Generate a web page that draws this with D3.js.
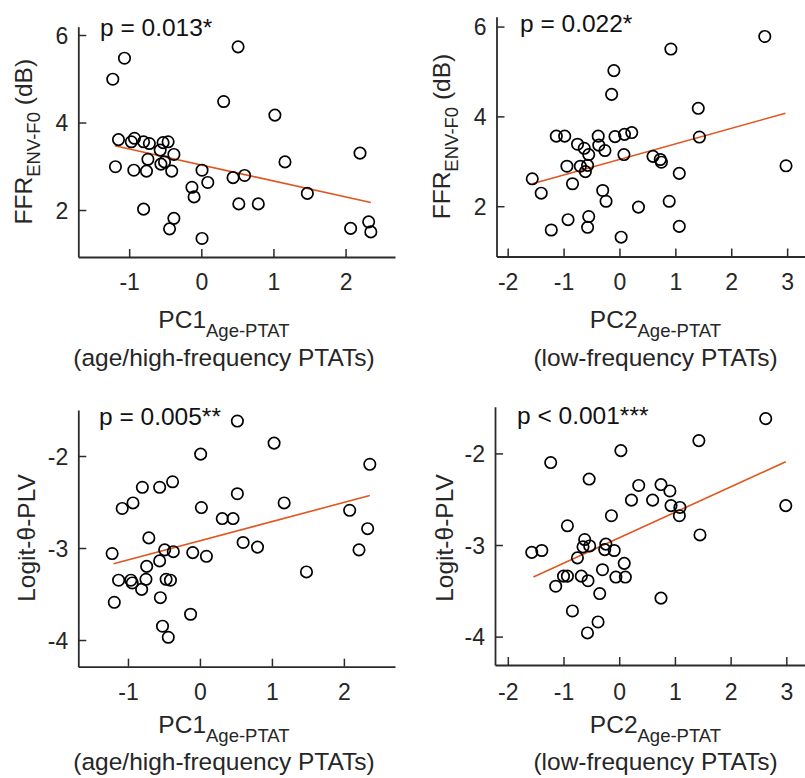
<!DOCTYPE html>
<html>
<head>
<meta charset="utf-8">
<script src="https://cdn.jsdelivr.net/npm/d3@7"></script>
<style>
  html, body { margin: 0; padding: 0; background: #fff; }
  svg { display: block; }
  text { font-family: "Liberation Sans", Arial, Helvetica, sans-serif; }
</style>
</head>
<body>
<svg id="chart" width="805" height="778"></svg>
<script>
// ---------------- DATA ----------------
// Panel 1: PC1 vs FFR
const p1X = [0.51,-1.065,-1.227,0.31,1.02,-1.148,-0.97,-0.926,-0.80,-0.72,-0.53,-0.46,-0.57,-0.38,-0.74,-0.51,-0.56,-1.19,-0.935,-0.76,-0.41,0.01,0.09,0.44,0.60,1.16,2.20,-0.13,-0.10,1.47,0.52,0.79,-0.80,-0.38,-0.44,0.01,2.07,2.32,2.35];
const p1Y = [5.73,5.47,4.99,4.48,4.17,3.61,3.56,3.64,3.56,3.52,3.54,3.56,3.37,3.27,3.16,3.10,3.05,2.99,2.91,2.89,2.89,2.91,2.63,2.74,2.79,3.10,3.30,2.52,2.30,2.38,2.14,2.14,2.02,1.81,1.57,1.35,1.58,1.73,1.50];
// Panel 2: PC2 vs FFR
const p2X = [2.60,0.92,-0.10,-0.14,1.41,-1.13,-0.98,-0.75,-0.63,-0.38,-0.37,-0.26,-0.08,0.09,0.22,1.43,-0.55,0.08,0.60,0.73,0.75,-0.94,-0.70,-0.57,-0.61,-1.56,-0.84,1.07,2.98,-1.40,-0.30,-0.24,0.34,0.89,-0.92,-0.55,-0.57,-1.22,1.07,0.03];
const p2Y = [5.78,5.50,5.02,4.49,4.18,3.56,3.56,3.38,3.29,3.56,3.36,3.24,3.55,3.60,3.64,3.54,3.15,3.15,3.11,3.04,2.98,2.89,2.89,2.91,2.77,2.61,2.50,2.73,2.90,2.29,2.35,2.11,1.98,2.11,1.70,1.77,1.53,1.47,1.55,1.31];
// Panel 3: PC1 vs Logit-theta-PLV
const p3X = [0.52,1.03,0.01,2.36,-0.38,-0.80,-0.56,0.52,-1.08,-0.93,0.02,1.17,0.31,0.46,2.08,2.33,-0.71,0.60,0.80,-0.49,-0.37,-0.10,0.09,-1.22,2.21,-0.56,-0.74,-1.13,-0.96,-0.94,-0.75,-0.81,-0.47,-0.41,1.48,-1.19,-0.55,-0.13,-0.52,-0.44];
const p3Y = [-1.62,-1.86,-1.98,-2.09,-2.28,-2.34,-2.34,-2.41,-2.57,-2.51,-2.56,-2.51,-2.68,-2.68,-2.59,-2.79,-2.89,-2.94,-2.99,-3.02,-3.04,-3.05,-3.09,-3.06,-3.02,-3.14,-3.20,-3.35,-3.35,-3.38,-3.34,-3.45,-3.34,-3.35,-3.26,-3.59,-3.54,-3.72,-3.85,-3.97];
// Panel 4: PC2 vs Logit-theta-PLV
const p4X = [2.63,1.43,0.03,-1.23,-0.54,0.35,0.75,0.91,0.22,0.60,0.93,1.09,1.08,2.99,-0.14,-0.93,1.45,-0.62,-0.65,-0.53,-0.24,-0.26,-0.09,-1.57,-1.39,-0.75,0.09,-0.30,-1.00,-0.93,-0.68,-0.06,0.11,-1.14,-0.56,-0.35,0.75,-0.84,-0.38,-0.57];
const p4Y = [-1.62,-1.86,-1.97,-2.10,-2.28,-2.35,-2.34,-2.41,-2.51,-2.51,-2.57,-2.59,-2.68,-2.57,-2.68,-2.79,-2.89,-2.94,-3.02,-3.01,-2.99,-3.05,-3.06,-3.08,-3.06,-3.14,-3.20,-3.27,-3.34,-3.34,-3.34,-3.35,-3.35,-3.45,-3.39,-3.53,-3.58,-3.72,-3.84,-3.96];

// Regression line end points
const fit1X = [-1.20, 2.35], fit1Y = [3.47, 2.17];
const fit2X = [-1.56, 2.97], fit2Y = [2.50, 4.07];
const fit3X = [-1.20, 2.36], fit3Y = [-3.17, -2.43];
const fit4X = [-1.54, 2.99], fit4Y = [-3.35, -2.09];

// Tick values
const xTicksPC1 = [-1, 0, 1, 2];
const xTicksPC2 = [-2, -1, 0, 1, 2, 3];
const yTicksFFR = [2, 4, 6];
const yTicksPLV = [-4, -3, -2];

// Texts
const pTexts = ["p = 0.013*", "p = 0.022*", "p = 0.005**", "p < 0.001***"];
const xLabelMain = ["PC1", "PC2", "PC1", "PC2"];
const xLabelSub = "Age-PTAT";
const xLabelLine2 = ["(age/high-frequency PTATs)", "(low-frequency PTATs)", "(age/high-frequency PTATs)", "(low-frequency PTATs)"];

// ---------------- LAYOUT ----------------
const panels = [
  { x: p1X, y: p1Y, fx: fit1X, fy: fit1Y, xt: xTicksPC1, yt: yTicksFFR,
    xd: [-1.705, 2.685], xr: [78.3, 395], yd: [0.926, 6.19], yr: [257, 26.7],
    p: pTexts[0], pPos: [100, 36], ylab: "ffr", ylabPos: [32, 141.7],
    xl1: xLabelMain[0], xl2: xLabelLine2[0], xlCenter: 224, xlBase: [328, 366], tickBase: 290 },
  { x: p2X, y: p2Y, fx: fit2X, fy: fit2Y, xt: xTicksPC2, yt: yTicksFFR,
    xd: [-2.2, 3.4], xr: [496.5, 809.5], yd: [0.88, 6.22], yr: [256.5, 16.7],
    p: pTexts[1], pPos: [520, 32], ylab: "ffr", ylabPos: [450, 136.5],
    xl1: xLabelMain[1], xl2: xLabelLine2[1], xlCenter: 655.5, xlBase: [328, 366], tickBase: 290 },
  { x: p3X, y: p3Y, fx: fit3X, fy: fit3Y, xt: xTicksPC1, yt: yTicksPLV,
    xd: [-1.69, 2.71], xr: [78.3, 395], yd: [-4.29, -1.5], yr: [666.7, 410],
    p: pTexts[2], pPos: [99, 425], ylab: "plv", ylabPos: [35, 538],
    xl1: xLabelMain[2], xl2: xLabelLine2[2], xlCenter: 224, xlBase: [733, 770], tickBase: 700 },
  { x: p4X, y: p4Y, fx: fit4X, fy: fit4Y, xt: xTicksPC2, yt: yTicksPLV,
    xd: [-2.23, 3.4], xr: [495, 808.6], yd: [-4.31, -1.49], yr: [665, 406.7],
    p: pTexts[3], pPos: [517, 424], ylab: "plv", ylabPos: [453, 538],
    xl1: xLabelMain[3], xl2: xLabelLine2[3], xlCenter: 655.5, xlBase: [733, 770], tickBase: 700 }
];

const axisColor = "#2b2b2b";
const textColor = "#262626";
const fitColor = "#E0561F";
const tickLen = 8;

const svg = d3.select("#chart");

panels.forEach(pn => {
  const xs = d3.scaleLinear().domain(pn.xd).range(pn.xr);
  const ys = d3.scaleLinear().domain(pn.yd).range(pn.yr);
  const g = svg.append("g");

  // regression line
  const lineGen = d3.line().x(d => xs(d[0])).y(d => ys(d[1]));
  g.append("path")
    .datum(d3.zip(pn.fx, pn.fy))
    .attr("d", lineGen)
    .attr("fill", "none")
    .attr("stroke", fitColor)
    .attr("stroke-width", 1.6);

  // points
  g.selectAll("circle.pt")
    .data(d3.zip(pn.x, pn.y))
    .join("circle")
    .attr("class", "pt")
    .attr("cx", d => xs(d[0]))
    .attr("cy", d => ys(d[1]))
    .attr("r", 5.7)
    .attr("fill", "none")
    .attr("stroke", "#000")
    .attr("stroke-width", 1.7);

  // x axis (ticks inward)
  const xAxis = d3.axisBottom(xs).tickValues(pn.xt).tickSize(-tickLen).tickSizeOuter(0)
    .tickFormat(d3.format("d"));
  const xg = g.append("g").attr("transform", `translate(0,${pn.yr[0]})`).call(xAxis);
  xg.select(".domain").attr("stroke", axisColor).attr("stroke-width", 1.8);
  xg.selectAll(".tick line").attr("stroke", axisColor).attr("stroke-width", 1.5);
  xg.selectAll(".tick text")
    .attr("y", pn.tickBase - pn.yr[0]).attr("dy", 0)
    .attr("font-size", 23).attr("fill", textColor)
    .text(d => d < 0 ? "-" + Math.abs(d) : d);

  // y axis (ticks inward)
  const yAxis = d3.axisLeft(ys).tickValues(pn.yt).tickSize(-tickLen).tickSizeOuter(0)
    .tickFormat(d3.format("d"));
  const yg = g.append("g").attr("transform", `translate(${pn.xr[0]},0)`).call(yAxis);
  yg.select(".domain").attr("stroke", axisColor).attr("stroke-width", 1.8);
  yg.selectAll(".tick line").attr("stroke", axisColor).attr("stroke-width", 1.5);
  yg.selectAll(".tick text")
    .attr("x", -10).attr("dy", "0.36em")
    .attr("font-size", 23).attr("fill", textColor)
    .text(d => d < 0 ? "-" + Math.abs(d) : d);
  g.selectAll(".domain").attr("fill", "none");

  // p-value text
  g.append("text")
    .attr("x", pn.pPos[0]).attr("y", pn.pPos[1])
    .attr("font-size", 24.5).attr("fill", "#111")
    .text(pn.p);

  // x label
  const xl = g.append("text")
    .attr("x", pn.xlCenter).attr("y", pn.xlBase[0])
    .attr("text-anchor", "middle").attr("fill", textColor).attr("font-size", 24.5);
  xl.append("tspan").text(pn.xl1);
  xl.append("tspan").attr("dy", 9).attr("font-size", 18.5).text(xLabelSub);
  g.append("text")
    .attr("x", pn.xlCenter).attr("y", pn.xlBase[1])
    .attr("text-anchor", "middle").attr("fill", textColor).attr("font-size", 24.5)
    .text(pn.xl2);

  // y label
  const yl = g.append("text")
    .attr("transform", `translate(${pn.ylabPos[0]},${pn.ylabPos[1]}) rotate(-90)`)
    .attr("text-anchor", "middle").attr("fill", textColor).attr("font-size", 24.5);
  if (pn.ylab === "ffr") {
    yl.append("tspan").text("FFR");
    yl.append("tspan").attr("dy", 8).attr("font-size", 18.5).text("ENV-F0");
    yl.append("tspan").attr("dy", -8).text(" (dB)");
  } else {
    yl.text("Logit-θ-PLV");
  }
});
</script>
</body>
</html>
